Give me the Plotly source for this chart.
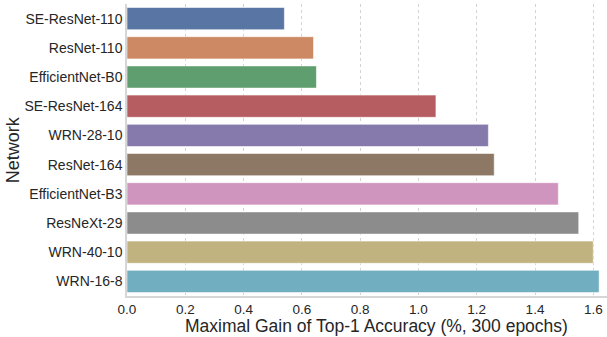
import plotly.graph_objects as go

networks = ["SE-ResNet-110", "ResNet-110", "EfficientNet-B0", "SE-ResNet-164",
            "WRN-28-10", "ResNet-164", "EfficientNet-B3", "ResNeXt-29",
            "WRN-40-10", "WRN-16-8"]
gains = [0.54, 0.64, 0.65, 1.06, 1.24, 1.26, 1.48, 1.55, 1.60, 1.62]
colors = ["#5975a4", "#cc8963", "#5f9e6e", "#b55d60", "#857aab",
          "#8d7866", "#d095bf", "#8c8c8c", "#c1b37f", "#71aec0"]
x_ticks = [0.0, 0.2, 0.4, 0.6, 0.8, 1.0, 1.2, 1.4, 1.6]

FONT = "Liberation Sans, Arial, sans-serif"
TXT = "#262626"

W, H = 607, 337
M_T, M_B = 4, 41
plot_h = H - M_T - M_B

fig = go.Figure(go.Bar(
    x=gains, y=networks, orientation="h", width=0.76,
    marker=dict(color=colors, line=dict(color="rgba(255,255,255,0.55)", width=1)),
))

fig.update_layout(
    width=W, height=H,
    margin=dict(l=127, r=0, t=M_T, b=M_B),
    paper_bgcolor="white", plot_bgcolor="white",
    showlegend=False,
    font=dict(family=FONT, color=TXT, size=14),
    xaxis=dict(
        range=[0, 1.647], tickvals=x_ticks,
        ticktext=[f"{v:.1f}" for v in x_ticks],
        showgrid=True, gridcolor="#d2d2d2", griddash="dot", gridwidth=1,
        zeroline=False, showline=True, linecolor="#d6d6d6", linewidth=1.5,
        ticks="", ticklen=0, tickfont=dict(size=13.5, color=TXT),
    ),
    yaxis=dict(
        type="category", categoryorder="array", categoryarray=networks,
        range=[9.5, -0.5], showgrid=False, zeroline=False,
        showline=True, linecolor="#d6d6d6", linewidth=1.5,
        ticks="", ticklabelstandoff=0, tickfont=dict(size=14, color=TXT),
    ),
    annotations=[
        dict(text="Maximal Gain of Top-1 Accuracy (%, 300 epochs)",
             xref="paper", yref="paper", x=0.519, y=-M_B / plot_h,
             xanchor="center", yanchor="bottom", borderpad=0,
             showarrow=False, font=dict(size=17.5, color=TXT, family=FONT)),
        dict(text="Network", xref="paper", yref="paper", x=-0.237, y=0.5,
             xanchor="center", yanchor="middle", textangle=-90,
             showarrow=False, font=dict(size=18, color=TXT, family=FONT)),
    ],
)

fig.write_html("out.html")
